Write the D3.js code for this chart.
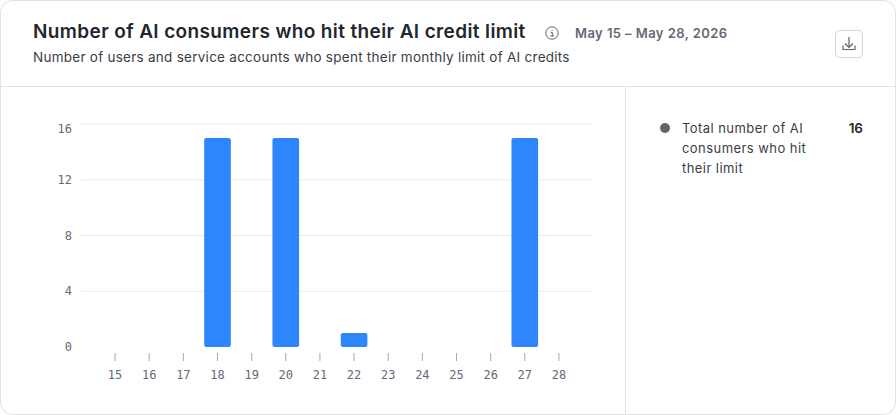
<!DOCTYPE html>
<html><head><meta charset="utf-8">
<script src="https://cdn.jsdelivr.net/npm/d3@7"></script>
<style>html,body{margin:0;padding:0;background:#fff}svg{display:block}</style>
</head><body><svg id="c" width="896" height="415"></svg>
<script>
const days=[15,16,17,18,19,20,21,22,23,24,25,26,27,28];
const consumers=[0,0,0,15,0,15,0,1,0,0,0,0,15,0];
const yTicks=[0,4,8,12,16];
const titleText="Number of AI consumers who hit their AI credit limit";
const subtitleText="Number of users and service accounts who spent their monthly limit of AI credits";
const rangeText="May 15 – May 28, 2026";
const legendLines=["Total number of AI","consumers who hit","their limit"];
const legendTotal="16";

const svg=d3.select("#c");
const sans="Inter, 'Noto Sans', sans-serif", mono="'DejaVu Sans Mono', monospace";
svg.append("rect").attr("x",.5).attr("y",.5).attr("width",895).attr("height",414).attr("rx",12).attr("fill","#fff").attr("stroke","#e1e2e6");
svg.append("line").attr("x1",1).attr("x2",895).attr("y1",86.5).attr("y2",86.5).attr("stroke","#e1e2e6");
svg.append("line").attr("x1",625.5).attr("x2",625.5).attr("y1",87).attr("y2",414).attr("stroke","#e1e2e6");

svg.append("text").attr("x",33).attr("y",38).attr("font-family",sans).attr("font-size",19).attr("letter-spacing",.38).attr("font-weight",600).attr("fill","#24262e").text(titleText);
svg.append("text").attr("x",33).attr("y",62).attr("font-family",sans).attr("font-size",13.5).attr("letter-spacing",.26).attr("fill","#3a3d47").text(subtitleText);
svg.append("text").attr("x",575).attr("y",38).attr("font-family",sans).attr("font-size",13).attr("letter-spacing",.43).attr("font-weight",600).attr("fill","#656875").text(rangeText);

const info=svg.append("g").attr("transform","translate(552,33)").attr("fill","none").attr("stroke","#5f626e").attr("stroke-width",1);
info.append("circle").attr("r",6.2);
info.append("path").attr("d","M-1.5-.7H.3V3M-1.7 3H2.2M.1-3.2V-2.4");

svg.append("rect").attr("x",835.5).attr("y",30.5).attr("width",27).attr("height",27).attr("rx",4).attr("fill","#fff").attr("stroke","#d5d6db");
svg.append("path").attr("d","M849 37V47.5M845 43.5L849 47.5L853 43.5M843 45.5V49.5H855V45.5").attr("fill","none").attr("stroke","#5f626e").attr("stroke-width",1.2);

const x=d3.scaleBand().domain(days).range([98,576]).paddingInner(.22).paddingOuter(.11);
const y=d3.scaleLinear().domain([0,16]).range([347,124]);
const maxTick=d3.max(yTicks);

svg.append("g").selectAll("line").data(yTicks.slice(1)).join("line")
 .attr("x1",81).attr("x2",592).attr("y1",d=>y(d)).attr("y2",d=>y(d)).attr("stroke","#ebebee").attr("stroke-width",1.2);
svg.append("g").selectAll("text").data(yTicks).join("text")
 .attr("x",72).attr("y",d=>y(d)+(d===maxTick?8.5:4)).attr("text-anchor","end").attr("font-family",mono).attr("font-size",12).attr("fill","#666977").text(d=>d);

const bars=consumers.map((v,i)=>({day:days[i],v})).filter(d=>d.v>0);
svg.append("g").selectAll("rect").data(bars).join("rect")
 .attr("x",d=>x(d.day)).attr("width",x.bandwidth()).attr("y",d=>y(d.v)).attr("height",d=>y(0)-y(d.v)).attr("rx",2).attr("fill","#2e86ff");

const cx=d=>x(d)+x.bandwidth()/2;
svg.append("g").selectAll("line").data(days).join("line")
 .attr("x1",cx).attr("x2",cx).attr("y1",353).attr("y2",361).attr("stroke","#a9abb4").attr("stroke-width",1);
svg.append("g").selectAll("text").data(days).join("text")
 .attr("x",cx).attr("y",379).attr("text-anchor","middle").attr("font-family",mono).attr("font-size",12).attr("fill","#666977").text(d=>d);

svg.append("circle").attr("cx",665).attr("cy",128).attr("r",5).attr("fill","#5f6569");
svg.append("g").selectAll("text").data(legendLines).join("text")
 .attr("x",682).attr("y",(d,i)=>133+i*20).attr("font-family",sans).attr("font-size",13).attr("letter-spacing",.44).attr("fill","#3a3d47").text(d=>d);
svg.append("text").attr("x",863).attr("y",133).attr("text-anchor","end").attr("font-family",sans).attr("font-size",13.5).attr("font-weight",600).attr("fill","#24262e").text(legendTotal);
</script></body></html>
